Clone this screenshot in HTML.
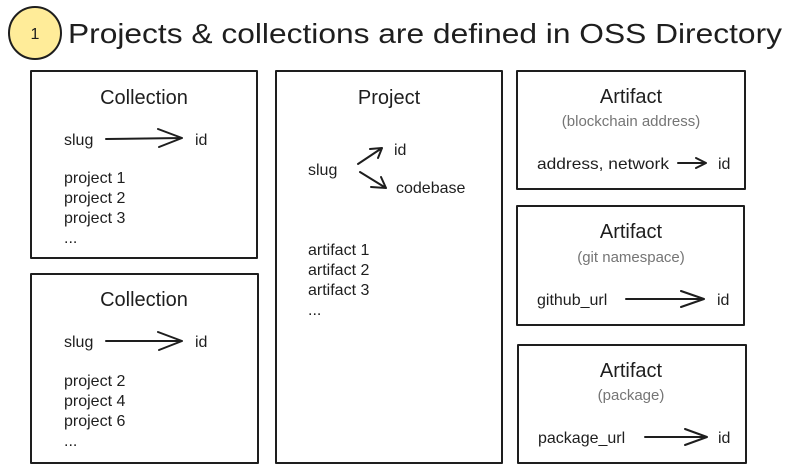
<!DOCTYPE html>
<html><head><meta charset="utf-8"><style>
html,body{margin:0;padding:0;background:#fff;}
svg{display:block;}
text{font-family:"Liberation Sans",sans-serif;fill:#1e1e1e;}
</style></head><body>
<svg width="793" height="473" viewBox="0 0 793 473" xmlns="http://www.w3.org/2000/svg">
<g fill="none" stroke="#1e1e1e" stroke-width="2" stroke-linecap="round" stroke-linejoin="round">
<circle cx="35" cy="33" r="26" fill="#ffec99"/>
<rect x="31" y="71" width="226" height="187"/>
<rect x="31" y="274" width="227" height="189"/>
<rect x="276" y="71" width="226" height="392"/>
<rect x="517" y="71" width="228" height="118"/>
<rect x="517" y="206" width="227" height="119"/>
<rect x="518" y="345" width="228" height="118"/>
<!-- arrows -->
<path d="M106 139 L182 138 M158 129 L182 138 L159 147"/>
<path d="M106 341 L182 341 M158 332 L182 341 L159 350"/>
<path d="M358 164 L382 148 M370 149 L382 148 L378 158"/>
<path d="M360 172 L386 188 M371 187 L386 188 L381 177"/>
<path d="M678 163 L706 163 M696 158 L706 163 L696 168"/>
<path d="M626 299 L704 299 M681 291 L704 299 L681 307"/>
<path d="M645 437 L707 437 M685 429 L707 437 L685 445"/>
</g>
<text x="35" y="39" font-size="16" text-anchor="middle">1</text>
<text x="68" y="43" font-size="28" textLength="714" lengthAdjust="spacingAndGlyphs">Projects &amp; collections are defined in OSS Directory</text>

<text x="144" y="104" font-size="20" text-anchor="middle">Collection</text>
<text x="64" y="145" font-size="16">slug</text>
<text x="195" y="145" font-size="16">id</text>
<text x="64" y="183" font-size="16">project 1</text>
<text x="64" y="203" font-size="16">project 2</text>
<text x="64" y="223" font-size="16">project 3</text>
<text x="64" y="243" font-size="16">...</text>

<text x="144" y="306" font-size="20" text-anchor="middle">Collection</text>
<text x="64" y="347" font-size="16">slug</text>
<text x="195" y="347" font-size="16">id</text>
<text x="64" y="386" font-size="16">project 2</text>
<text x="64" y="406" font-size="16">project 4</text>
<text x="64" y="426" font-size="16">project 6</text>
<text x="64" y="446" font-size="16">...</text>

<text x="389" y="104" font-size="20" text-anchor="middle">Project</text>
<text x="308" y="175" font-size="16">slug</text>
<text x="394" y="155" font-size="16">id</text>
<text x="396" y="193" font-size="16">codebase</text>
<text x="308" y="255" font-size="16">artifact 1</text>
<text x="308" y="275" font-size="16">artifact 2</text>
<text x="308" y="295" font-size="16">artifact 3</text>
<text x="308" y="315" font-size="16">...</text>

<text x="631" y="103" font-size="20" text-anchor="middle">Artifact</text>
<text x="631" y="126" font-size="15" style="fill:#757575" text-anchor="middle">(blockchain address)</text>
<text x="537" y="169" font-size="16" textLength="132" lengthAdjust="spacingAndGlyphs">address, network</text>
<text x="718" y="169" font-size="16">id</text>

<text x="631" y="238" font-size="20" text-anchor="middle">Artifact</text>
<text x="631" y="262" font-size="15" style="fill:#757575" text-anchor="middle">(git namespace)</text>
<text x="537" y="305" font-size="16">github_url</text>
<text x="717" y="305" font-size="16">id</text>

<text x="631" y="377" font-size="20" text-anchor="middle">Artifact</text>
<text x="631" y="400" font-size="15" style="fill:#757575" text-anchor="middle">(package)</text>
<text x="538" y="443" font-size="16">package_url</text>
<text x="718" y="443" font-size="16">id</text>
</svg>
</body></html>
